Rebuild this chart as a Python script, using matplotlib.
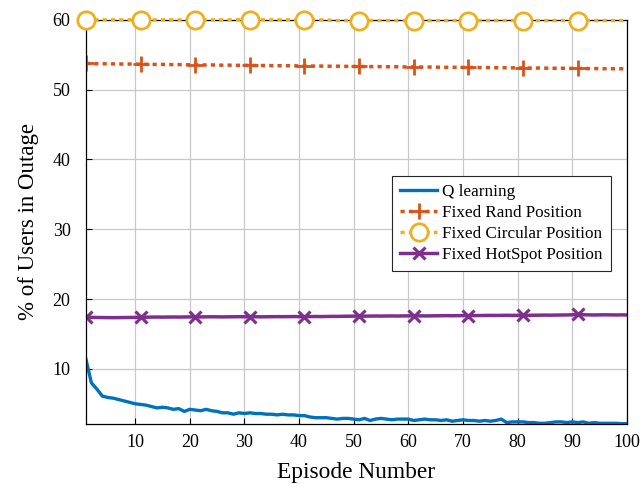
import matplotlib
matplotlib.use("Agg")
import matplotlib.pyplot as plt
import numpy as np

plt.rcParams["font.family"] = ["Liberation Serif", "DejaVu Serif"]

episodes = list(range(1, 101))

q_learning = [
    11.4, 8.0, 7.1, 6.1, 5.9, 5.8, 5.6, 5.4, 5.2, 5.0,
    4.9, 4.8, 4.6, 4.4, 4.5, 4.4, 4.2, 4.3, 3.9, 4.2,
    4.1, 4.0, 4.2, 4.0, 3.9, 3.7, 3.7, 3.5, 3.7, 3.6,
    3.7, 3.6, 3.6, 3.5, 3.5, 3.4, 3.5, 3.4, 3.4, 3.3,
    3.3, 3.1, 3.0, 3.0, 3.0, 2.9, 2.8, 2.9, 2.9, 2.8,
    2.7, 2.9, 2.6, 2.8, 2.9, 2.8, 2.7, 2.8, 2.8, 2.8,
    2.6, 2.7, 2.8, 2.7, 2.7, 2.6, 2.7, 2.5, 2.6, 2.7,
    2.6, 2.6, 2.5, 2.6, 2.5, 2.6, 2.8, 2.3, 2.4, 2.4,
    2.4, 2.3, 2.3, 2.2, 2.2, 2.3, 2.4, 2.4, 2.3, 2.4,
    2.3, 2.4, 2.2, 2.3, 2.2, 2.2, 2.2, 2.2, 2.15, 2.15,
]

fixed_rand = [
    53.75, 53.74, 53.72, 53.70, 53.71, 53.69, 53.68, 53.66, 53.67, 53.65,
    53.64, 53.63, 53.62, 53.61, 53.62, 53.60, 53.58, 53.59, 53.57, 53.56,
    53.56, 53.55, 53.53, 53.54, 53.52, 53.50, 53.51, 53.49, 53.48, 53.49,
    53.47, 53.46, 53.45, 53.46, 53.44, 53.43, 53.42, 53.43, 53.41, 53.40,
    53.40, 53.39, 53.37, 53.38, 53.36, 53.35, 53.36, 53.34, 53.33, 53.32,
    53.32, 53.31, 53.30, 53.31, 53.29, 53.28, 53.27, 53.28, 53.26, 53.25,
    53.25, 53.24, 53.23, 53.24, 53.22, 53.21, 53.20, 53.21, 53.19, 53.18,
    53.18, 53.17, 53.16, 53.17, 53.15, 53.14, 53.13, 53.14, 53.12, 53.11,
    53.11, 53.10, 53.09, 53.10, 53.08, 53.07, 53.06, 53.07, 53.05, 53.04,
    53.04, 53.03, 53.02, 53.03, 53.01, 53.00, 53.00, 52.99, 52.99, 52.98,
]

fixed_circular = [
    60.0, 60.0, 60.0, 60.0, 60.0, 60.0, 60.0, 60.0, 60.0, 60.0,
    60.0, 60.0, 60.0, 60.0, 60.0, 60.0, 60.0, 60.0, 60.0, 60.0,
    60.0, 60.0, 60.0, 60.0, 60.0, 60.0, 60.0, 60.0, 60.0, 60.0,
    60.0, 60.0, 60.0, 60.0, 60.0, 60.0, 60.0, 60.0, 60.0, 60.0,
    60.0, 60.0, 60.0, 60.0, 60.0, 59.9, 59.9, 59.9, 59.9, 59.9,
    59.9, 59.9, 59.9, 59.9, 59.9, 59.9, 59.9, 59.9, 59.9, 59.9,
    59.9, 59.9, 59.9, 59.9, 59.9, 59.9, 59.9, 59.9, 59.9, 59.9,
    59.9, 59.9, 59.9, 59.9, 59.9, 59.9, 59.9, 59.9, 59.9, 59.9,
    59.9, 59.9, 59.9, 59.9, 59.9, 59.9, 59.9, 59.9, 59.9, 59.9,
    59.9, 59.9, 59.9, 59.9, 59.9, 59.9, 59.9, 59.9, 59.9, 59.9,
]

fixed_hotspot = [
    17.40, 17.38, 17.36, 17.35, 17.34, 17.33, 17.34, 17.35, 17.36, 17.37,
    17.38, 17.40, 17.41, 17.42, 17.41, 17.42, 17.43, 17.42, 17.43, 17.44,
    17.45, 17.44, 17.45, 17.46, 17.45, 17.44, 17.45, 17.46, 17.47, 17.46,
    17.47, 17.46, 17.45, 17.46, 17.47, 17.48, 17.47, 17.48, 17.49, 17.48,
    17.48, 17.49, 17.50, 17.49, 17.50, 17.52, 17.51, 17.53, 17.54, 17.55,
    17.56, 17.55, 17.56, 17.57, 17.56, 17.57, 17.58, 17.57, 17.58, 17.59,
    17.60, 17.59, 17.58, 17.59, 17.60, 17.61, 17.62, 17.61, 17.62, 17.63,
    17.64, 17.63, 17.64, 17.65, 17.66, 17.65, 17.66, 17.67, 17.66, 17.67,
    17.68, 17.67, 17.68, 17.69, 17.70, 17.69, 17.70, 17.71, 17.72, 17.74,
    17.80, 17.75, 17.73, 17.72, 17.73, 17.74, 17.73, 17.72, 17.73, 17.72,
]

x_ticks = [10, 20, 30, 40, 50, 60, 70, 80, 90, 100]
y_ticks = [10, 20, 30, 40, 50, 60]

fig = plt.figure(figsize=(6.41, 4.84), dpi=100)
ax = fig.add_axes([0.134, 0.124, 0.844, 0.835])

ax.plot(episodes, q_learning, color="#0072BD", lw=2.4, label="Q learning")
ax.plot(episodes, fixed_rand, color="#D95319", lw=2.5, ls=(0, (1.2, 1.2)),
        marker="+", markersize=11, markeredgewidth=2, markevery=10,
        label="Fixed Rand Position")
ax.plot(episodes, fixed_circular, color="#EDB120", lw=2.5, ls=(0, (1.2, 1.2)),
        marker="o", markersize=12.5, markeredgewidth=2, markerfacecolor="white",
        markevery=10, label="Fixed Circular Position", clip_on=False, zorder=5)
ax.plot(episodes, fixed_hotspot, color="#7E2F8E", lw=2.5,
        marker="x", markersize=9, markeredgewidth=2.2, markevery=10,
        label="Fixed HotSpot Position")

ax.set_xlim(1, 100)
ax.set_ylim(2.1, 60)
ax.set_xticks(x_ticks)
ax.set_yticks(y_ticks)
ax.tick_params(direction="in", labelsize=13, length=4, width=0.8)
ax.tick_params(axis="x", pad=7)
ax.tick_params(axis="y", pad=11)
ax.grid(True, color="#c8c8c8", lw=0.9)
ax.set_axisbelow(True)
for s in ax.spines.values():
    s.set_linewidth(0.9)

ax.set_xlabel("Episode Number", fontsize=16.8, labelpad=8)
ax.set_ylabel("% of Users in Outage", fontsize=16.5, labelpad=10)

leg = ax.legend(loc="upper left", bbox_to_anchor=(0.566, 0.614),
                borderaxespad=0, fontsize=12.3, fancybox=False,
                framealpha=1, edgecolor="#262626", handlelength=2.2,
                handletextpad=0.3, borderpad=0.45, labelspacing=0.3)
leg.get_frame().set_linewidth(0.8)

fig.savefig("out.png", dpi=100)
